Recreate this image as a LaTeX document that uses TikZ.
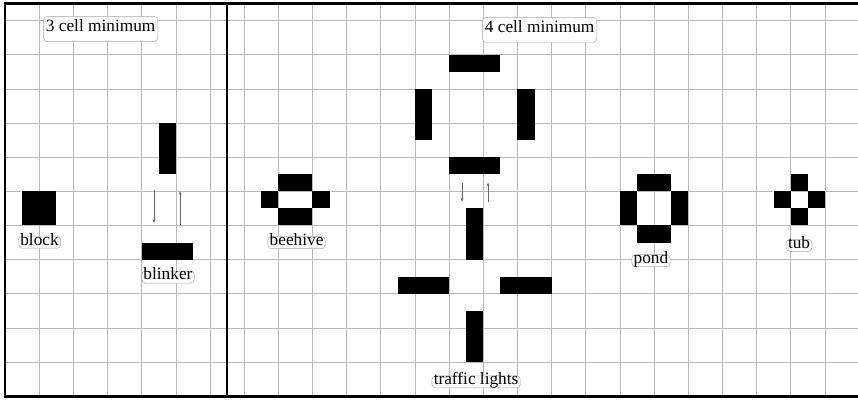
\documentclass[tikz,border=0pt]{standalone}
\usepackage{fontspec}
\setmainfont{Liberation Serif}
\usepackage{tikz}
\usetikzlibrary{arrows.meta, positioning}

\begin{document}
\begin{tikzpicture}[
  x=0.5cm, y=0.5cm,
  gridline/.style={draw=gray!55, line width=0.5pt},
  frame/.style={draw=black, line width=2.2pt},
  cell/.style={fill=black},
  lbl/.style={draw=gray!70, fill=white, rounded corners=3pt, line width=0.4pt, inner xsep=1.5pt, inner ysep=0.6pt, text height=0.68em, text depth=0.2em, font=\fontsize{14.4}{16}\selectfont},
  title/.style={lbl, minimum height=21pt, inner xsep=2pt},
  arr/.style={-{Stealth[length=3pt, width=2.4pt]}, line width=0.4pt, gray!80!black},
]
\useasboundingbox (-0.293,-0.187) rectangle (49.94,23.2);

\draw[gridline] (0,0) grid (49.94,23);
\draw[frame] (49.94,23) -- (0,23) -- (0,0) -- (49.94,0);
\draw[frame] (13,0) -- (13,23);

\fill[cell] (1,10) rectangle (3,12);
\fill[cell] (9,13) rectangle (10,16);
\fill[cell] (8,8) rectangle (11,9);

\fill[cell] (16,12) rectangle (18,13);
\fill[cell] (15,11) rectangle (16,12);
\fill[cell] (18,11) rectangle (19,12);
\fill[cell] (16,10) rectangle (18,11);

\fill[cell] (26,19) rectangle (29,20);
\fill[cell] (24,15) rectangle (25,18);
\fill[cell] (30,15) rectangle (31,18);
\fill[cell] (26,13) rectangle (29,14);
\fill[cell] (27,8) rectangle (28,11);
\fill[cell] (23,6) rectangle (26,7);
\fill[cell] (29,6) rectangle (32,7);
\fill[cell] (27,2) rectangle (28,5);

\fill[cell] (37,12) rectangle (39,13);
\fill[cell] (36,10) rectangle (37,12);
\fill[cell] (39,10) rectangle (40,12);
\fill[cell] (37,9) rectangle (39,10);

\fill[cell] (46,12) rectangle (47,13);
\fill[cell] (45,11) rectangle (46,12);
\fill[cell] (47,11) rectangle (48,12);
\fill[cell] (46,10) rectangle (47,11);

\node[title] (min3) at (5.6,21.5) {3 cell minimum};
\node[title] (min4) at (31.3,21.45) {4 cell minimum};
\node[lbl] (block) at (2.02,9.02) {block};
\node[lbl] (blinker) at (9.54,6.98) {blinker};
\node[lbl] (beehive) at (17.07,8.99) {beehive};
\node[lbl] (traffic) at (27.58,0.84) {traffic lights};
\node[lbl] (pond) at (37.82,7.94) {pond};
\node[lbl] (tub) at (46.49,8.84) {tub};

\coordinate (blink_dn_a) at (8.72,12.1);
\coordinate (blink_dn_b) at (8.72,10.15);
\coordinate (blink_up_a) at (10.25,10.05);
\coordinate (blink_up_b) at (10.25,12.0);
\coordinate (light_dn_a) at (26.76,12.5);
\coordinate (light_dn_b) at (26.76,11.4);
\coordinate (light_up_a) at (28.28,11.4);
\coordinate (light_up_b) at (28.28,12.5);

\draw[arr] (blink_dn_a) -- (blink_dn_b);
\draw[arr] (blink_up_a) -- (blink_up_b);
\draw[arr] (light_dn_a) -- (light_dn_b);
\draw[arr] (light_up_a) -- (light_up_b);

\end{tikzpicture}
\end{document}
